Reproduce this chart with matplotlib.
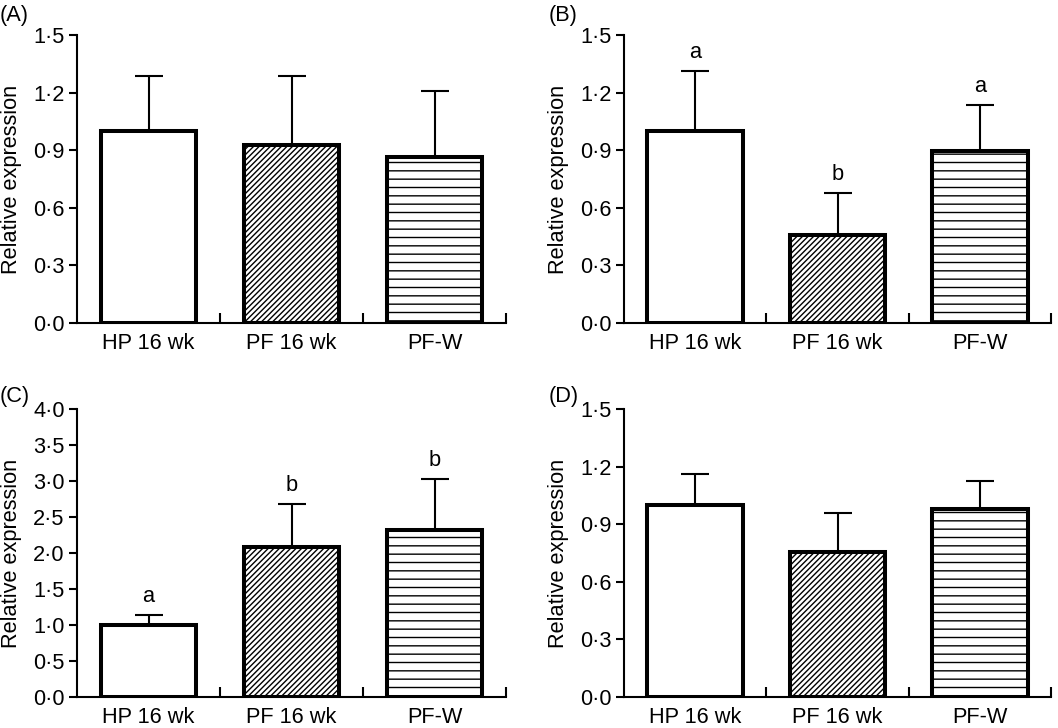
import matplotlib
matplotlib.use("Agg")
import matplotlib.pyplot as plt
from matplotlib.ticker import FuncFormatter, FixedLocator

plt.rcParams['font.family'] = ['Liberation Sans', 'DejaVu Sans']
plt.rcParams['hatch.linewidth'] = 1.0

FS = 15.7

categories = ["HP 16 wk", "PF 16 wk", "PF-W"]
hatches = ["", "//////", "--"]

panel_labels = ["(A)", "(B)", "(C)", "(D)"]
means_A = [1.00, 0.928, 0.867]
err_A = [0.285, 0.357, 0.342]
letters_A = ["", "", ""]

means_B = [1.00, 0.458, 0.898]
err_B = [0.314, 0.220, 0.238]
letters_B = ["a", "b", "a"]

means_C = [1.00, 2.09, 2.32]
err_C = [0.14, 0.584, 0.702]
letters_C = ["a", "b", "b"]

means_D = [1.00, 0.756, 0.977]
err_D = [0.159, 0.200, 0.149]
letters_D = ["", "", ""]

ylims = [1.5, 1.5, 4.0, 1.5]
ystep = [0.3, 0.3, 0.5, 0.3]

panels = [
    (means_A, err_A, letters_A),
    (means_B, err_B, letters_B),
    (means_C, err_C, letters_C),
    (means_D, err_D, letters_D),
]

positions = [
    [0.0728, 0.5563, 0.4055, 0.3956],
    [0.5898, 0.5563, 0.4036, 0.3956],
    [0.0728, 0.0426, 0.4055, 0.3956],
    [0.5898, 0.0426, 0.4036, 0.3956],
]
label_pos = [(0.0, 0.979), (0.519, 0.979), (0.0, 0.456), (0.519, 0.455)]

fig = plt.figure(figsize=(10.58, 7.28), dpi=100)

fmt = FuncFormatter(lambda v, p: f"{v:.1f}".replace('.', '\u00b7'))

for i, ((means, errs, letters), pos) in enumerate(zip(panels, positions)):
    ax = fig.add_axes(pos)
    x = list(range(len(categories)))
    ax.errorbar(x, means, yerr=[[0] * len(errs), errs], fmt='none',
                ecolor='black', elinewidth=1.5, capsize=10, capthick=1.5, zorder=1)
    for xi, m, h in zip(x, means, hatches):
        ax.bar(xi, m, width=0.67, facecolor='white', edgecolor='black',
               linewidth=2.9, hatch=h, zorder=2)
    for xi, m, e, l in zip(x, means, errs, letters):
        if l:
            ax.annotate(l, (xi, m + e), xytext=(0, 9.5), textcoords='offset points',
                        ha='center', va='baseline', fontsize=FS)
    top = ylims[i]
    ax.set_ylim(0, top)
    ax.set_xlim(-0.5, 2.5)
    n = int(round(top / ystep[i]))
    ax.set_yticks([k * ystep[i] for k in range(n + 1)])
    ax.yaxis.set_major_formatter(fmt)
    ax.xaxis.set_major_locator(FixedLocator([0.5, 1.5, 2.5]))
    ax.xaxis.set_major_formatter(FuncFormatter(lambda v, p: ""))
    ax.xaxis.set_minor_locator(FixedLocator(x))
    ax.set_xticklabels(categories, minor=True)
    ax.tick_params(axis='x', which='major', direction='in', length=7, width=1.5)
    ax.tick_params(axis='x', which='minor', length=0, pad=7, labelsize=FS)
    ax.tick_params(axis='y', direction='out', length=6, width=1.5, pad=3, labelsize=FS)
    for s in ['top', 'right']:
        ax.spines[s].set_visible(False)
    for s in ['left', 'bottom']:
        ax.spines[s].set_linewidth(1.5)
    ax.set_ylabel("Relative expression", fontsize=FS)
    ax.yaxis.set_label_coords(-0.128, 0.5)
    fig.text(label_pos[i][0], label_pos[i][1], panel_labels[i], fontsize=FS,
             ha='left', va='center')

fig.savefig("out.png", dpi=100)
